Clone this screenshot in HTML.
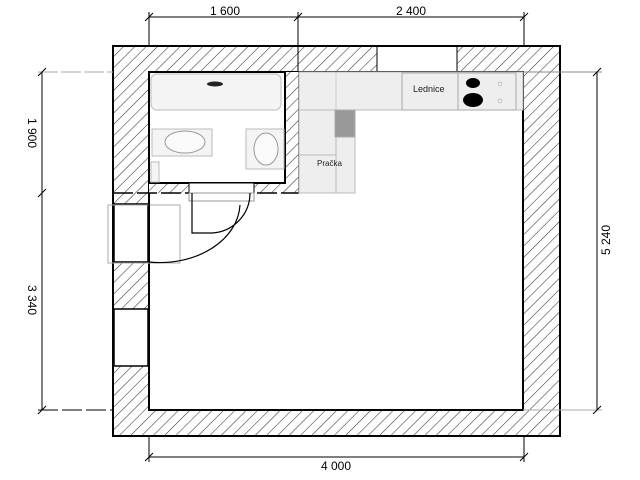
<!DOCTYPE html>
<html><head><style>html,body{margin:0;padding:0;background:#fff}svg{display:block}</style></head>
<body>
<svg width="640" height="480" viewBox="0 0 640 480" xmlns="http://www.w3.org/2000/svg" font-family="Liberation Sans, sans-serif">
<defs>
<pattern id="h" patternUnits="userSpaceOnUse" width="8" height="8" patternTransform="rotate(45)">
<rect width="8" height="8" fill="#fff"/><line x1="0" y1="0" x2="0" y2="8" stroke="#333" stroke-width="1.1"/>
</pattern>
</defs>
<!-- walls -->
<path d="M113,46 H560 V436 H113 Z M149,72 V410 H523 V72 Z" fill="url(#h)" fill-rule="evenodd" stroke="#000" stroke-width="2"/>
<!-- top window -->
<rect x="377" y="47" width="80" height="24" fill="#fff"/>
<line x1="377" y1="46" x2="377" y2="72" stroke="#000"/><line x1="457" y1="46" x2="457" y2="72" stroke="#000"/>
<!-- left openings -->
<rect x="114" y="204" width="34" height="58" fill="#fff" stroke="#000" stroke-width="1.5"/>
<rect x="114" y="309" width="34" height="57" fill="#fff" stroke="#000" stroke-width="1.5"/>
<rect x="108" y="205" width="72" height="58" fill="none" stroke="#aaa"/>
<path d="M149,262 A80,60 0 0 0 240,205" fill="none" stroke="#000" stroke-width="1.2"/>
<!-- bathroom partition -->
<path d="M149,72 H299 V193 H149 Z M149,72 H285 V183 H149 Z" fill="url(#h)" fill-rule="evenodd" stroke="none"/>
<rect x="149" y="72" width="136" height="111" fill="#fff" stroke="#000" stroke-width="2"/>
<line x1="299" y1="72" x2="299" y2="193" stroke="#000" stroke-width="1.5"/>
<line x1="113" y1="193" x2="299" y2="193" stroke="#000" stroke-width="1.5" stroke-dasharray="20,4"/>
<rect x="189" y="183" width="65" height="10" fill="#fff" stroke="#000"/>
<rect x="189" y="193" width="65" height="8" fill="#fff" stroke="#999"/>
<path d="M192,193 V233 H212 M212,233 A40,40 0 0 0 250,193" fill="none" stroke="#000" stroke-width="1.2"/>
<path d="M149,203 V262" stroke="#000" stroke-width="1.5"/>
<!-- bath fixtures -->
<rect x="151" y="74" width="130" height="36" rx="6" fill="#f4f4f4" stroke="#bbb"/>
<ellipse cx="215" cy="84" rx="8" ry="2.5" fill="#222"/>
<rect x="152" y="129" width="60" height="27" fill="#f4f4f4" stroke="#bbb"/>
<ellipse cx="185" cy="142" rx="20" ry="11" fill="#fafafa" stroke="#999"/>
<rect x="246" y="129" width="38" height="40" fill="#f4f4f4" stroke="#bbb"/>
<ellipse cx="266" cy="149" rx="12" ry="16" fill="#fafafa" stroke="#999"/>
<rect x="151" y="162" width="8" height="20" fill="#f4f4f4" stroke="#bbb"/>
<!-- kitchen -->
<rect x="299" y="72" width="224" height="38" fill="#eee" stroke="#bbb"/>
<rect x="299" y="110" width="56" height="83" fill="#eee" stroke="#bbb"/>
<line x1="336" y1="72" x2="336" y2="110" stroke="#ccc"/>
<rect x="402" y="73" width="56" height="37" fill="#eee" stroke="#aaa"/>
<rect x="458" y="73" width="58" height="37" fill="#eee" stroke="#aaa"/>
<rect x="335" y="110" width="20" height="27" fill="#999" stroke="#aaa"/>
<line x1="299" y1="155" x2="336" y2="155" stroke="#bbb"/><line x1="336" y1="137" x2="336" y2="193" stroke="#bbb"/>
<ellipse cx="473" cy="83" rx="7" ry="5" fill="#000"/>
<ellipse cx="473" cy="100" rx="10" ry="7" fill="#000"/>
<text x="500" y="86" font-size="9" fill="#999" text-anchor="middle">☼</text>
<text x="500" y="103" font-size="9" fill="#999" text-anchor="middle">☼</text>
<text x="413" y="92" font-size="9" fill="#222">Lednice</text>
<text x="317" y="166" font-size="8" fill="#222">Pračka</text>
<!-- dimensions -->
<g stroke="#000" stroke-width="1" fill="none">
<line x1="149" y1="17" x2="524" y2="17"/>
<line x1="149" y1="12" x2="149" y2="46"/><line x1="298" y1="12" x2="298" y2="72"/><line x1="524" y1="12" x2="524" y2="46"/>
<line x1="149" y1="457" x2="524" y2="457"/>
<line x1="149" y1="436" x2="149" y2="462"/><line x1="524" y1="436" x2="524" y2="462"/>
<line x1="597" y1="72" x2="597" y2="410"/>
<line x1="523" y1="72" x2="602" y2="72" stroke="#888"/><line x1="523" y1="410" x2="602" y2="410" stroke="#aaa"/>
<line x1="42" y1="72" x2="42" y2="410"/>
<line x1="38" y1="72" x2="113" y2="72" stroke="#aaa" stroke-dasharray="20,3"/>
<line x1="38" y1="410" x2="113" y2="410" stroke-dasharray="20,4"/>
<path d="M145,21 L153,13 M294,21 L302,13 M520,21 L528,13 M145,461 L153,453 M520,461 L528,453 M593,76 L601,68 M593,414 L601,406 M38,76 L46,68 M38,197 L46,189 M38,414 L46,406"/>
</g>
<g font-size="12" fill="#000" text-anchor="middle">
<text x="225" y="15">1 600</text>
<text x="411" y="15">2 400</text>
<text x="336" y="470">4 000</text>
<text transform="translate(610,240) rotate(-90)">5 240</text>
<text transform="translate(28,133) rotate(90)">1 900</text>
<text transform="translate(28,300) rotate(90)">3 340</text>
</g>
</svg>
</body></html>
